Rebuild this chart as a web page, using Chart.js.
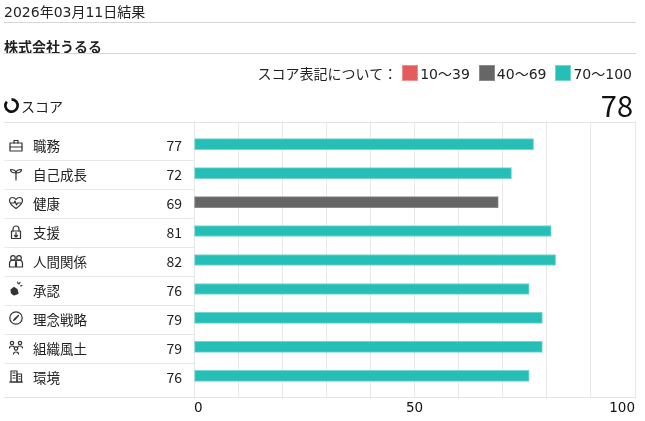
<!DOCTYPE html>
<html><head><meta charset="utf-8">
<script src="https://cdn.jsdelivr.net/npm/chart.js@4.4.1/dist/chart.umd.min.js"></script>
<style>
html,body{margin:0;padding:0;background:#fff;}
body{width:645px;height:421px;position:relative;overflow:hidden;font-family:"DejaVu Sans","Noto Sans CJK JP",sans-serif;color:#222;}
.abs{position:absolute;white-space:nowrap;}
.hl{position:absolute;height:1px;background:#d6d6d6;}
.sep{position:absolute;height:1px;background:#e8e8e8;left:4px;width:190px;}
#chartBox{position:absolute;left:0;top:0;width:645px;height:421px;}
#legend{position:absolute;right:13px;top:63px;height:19px;display:flex;align-items:center;font-size:14px;}
#legend .box{width:16px;height:16px;box-sizing:border-box;border:1px solid;margin-right:2px;}
#legend .lt{margin-right:9px;}
.lab{position:absolute;left:33px;font-size:13.5px;line-height:16px;font-family:"Noto Sans CJK JP",sans-serif;}
.val{position:absolute;right:463px;font-size:14px;line-height:16px;font-family:"Noto Sans CJK JP",sans-serif;text-align:right;}
.ico{position:absolute;left:8px;width:16px;height:16px;}
</style></head>
<body>
<div id="chartBox"><canvas id="c"></canvas></div>
<div class="abs" style="left:4px;top:4px;font-size:14px;line-height:16px;">2026年03月11日結果</div>
<div class="hl" style="left:4px;top:22px;width:632px;"></div>
<div class="abs" style="left:4px;top:38px;font-size:14px;line-height:16px;font-weight:bold;font-family:'Noto Sans CJK JP',sans-serif;">株式会社うるる</div>
<div class="hl" style="left:4px;top:53px;width:632px;"></div>
<div id="legend"></div>
<svg class="abs" style="left:3px;top:97px;" width="17" height="17" viewBox="0 0 16 16"><path d="M8 2.2 A5.8 5.8 0 1 1 3.56 4.27" fill="none" stroke="#111" stroke-width="2.5"/></svg>
<div class="abs" style="left:21px;top:98px;font-size:14px;line-height:16px;font-family:'Noto Sans CJK JP',sans-serif;">スコア</div>
<div class="abs" id="total" style="right:12px;top:87px;font-size:29px;line-height:34px;font-family:'Noto Sans CJK JP',sans-serif;color:#111;"></div>
<div class="hl" style="left:4px;top:122px;width:632px;background:#e3e3e3;"></div>
<div class="hl" style="left:4px;top:397px;width:632px;background:#e3e3e3;"></div>
<div id="rows"></div>
<script>
const categories = ["職務","自己成長","健康","支援","人間関係","承認","理念戦略","組織風土","環境"];
const scores = [77,72,69,81,82,76,79,79,76];
const totalScore = 78;
const legendLabels = ["10〜39","40〜69","70〜100"];
const legendTitle = "スコア表記について：";
const xTickLabels = [0,50,100];

const FILL = ["#e55c5c","#666666","#26bfb8"];
const EDGE = ["#f08f8f","#8a8a8a","#78d4cf"];
function band(v){return v<40?0:(v<70?1:2);}

const icons = [
 '<rect x="2" y="6" width="12" height="8" fill="none"/><path d="M6 6V3.5h4V6M2 10h12" fill="none"/>',
 '<path d="M8 14V7M8 7C8 4.5 5.5 3.5 2.5 3.5C2.5 6 5 7 8 7ZM8 7C8 4.5 10.5 3.5 13.5 3.5C13.5 6 11 7 8 7Z" fill="none"/>',
 '<path d="M8 13.5C3 10 1.5 7.5 1.5 5.5C1.5 3.5 3 2.5 4.5 2.5C6 2.5 7.3 3.5 8 4.5C8.7 3.5 10 2.5 11.5 2.5C13 2.5 14.5 3.5 14.5 5.5C14.5 7.5 13 10 8 13.5Z M3 8H6L7 6L8.5 10L9.5 8H13" fill="none"/>',
 '<path d="M5 7V5a3 3 0 0 1 6 0V7" fill="none"/><rect x="3.5" y="7" width="9" height="7.5" fill="none"/><path d="M8 8.5V13M6.5 11.5L8 13L9.5 11.5" fill="none"/>',
 '<circle cx="5" cy="5" r="2.3" fill="none"/><circle cx="11" cy="5" r="2.3" fill="none"/><path d="M1.5 14V10.5a3.5 3.5 0 0 1 7 0V14M7.5 14V10.5a3.5 3.5 0 0 1 7 0V14M1.5 14h13" fill="none"/>',
 '<path d="M3 9L6 6.5L9 8.5L10 12.5L6 14L3.5 12Z" fill="#333"/><path d="M11 3l1-1.5M12.5 5l1.5-.5M10 2.5l-.3-1.5" fill="none"/>',
 '<circle cx="8" cy="8" r="6.2" fill="none"/><path d="M10.5 5.5L7 9.5L5.5 10.5L6.5 9L10.5 5.5Z" fill="none"/>',
 '<circle cx="4" cy="4" r="1.7" fill="none"/><circle cx="12" cy="4" r="1.7" fill="none"/><circle cx="8" cy="9.5" r="1.7" fill="none"/><path d="M1.5 9a2.5 2 0 0 1 5 0M9.5 9a2.5 2 0 0 1 5 0M5.5 15a2.5 2 0 0 1 5 0" fill="none"/>',
 '<rect x="3" y="3" width="6" height="11" fill="none"/><rect x="9" y="6" width="4.5" height="8" fill="none"/><path d="M5 5h2M5 7.5h2M5 10h2M11 8.5h1M11 11h1M1.5 14h13" fill="none"/>'
];

// legend
const lg = document.getElementById('legend');
let h = '<span style="margin-right:5px;font-family:\'Noto Sans CJK JP\',sans-serif;">'+legendTitle+'</span>';
legendLabels.forEach((t,i)=>{
  h += '<span class="box" style="background:'+FILL[i]+';border-color:'+EDGE[i]+'"></span><span class="lt"'+(i===2?' style="margin-right:0"':'')+'>'+t+'</span>';
});
lg.innerHTML = h;
document.getElementById('total').textContent = totalScore;

const chart = new Chart(document.getElementById('c'), {
  type: 'bar',
  data: {
    datasets: [{
      data: scores.map((v,i)=>({x:v,y:i})),
      backgroundColor: scores.map(v=>FILL[band(v)]),
      borderColor: scores.map(v=>EDGE[band(v)]),
      borderWidth: 1,
      borderSkipped: false,
      barThickness: 11
    }]
  },
  options: {
    indexAxis: 'y',
    responsive: true,
    maintainAspectRatio: false,
    animation: false,
    devicePixelRatio: 1,
    layout: {padding: {left: 194, right: 10, top: 123, bottom: 0}},
    plugins: {legend: {display: false}, tooltip: {enabled: false}},
    scales: {
      x: {
        type: 'linear', min: 0, max: 100,
        grid: {color: 'rgba(0,0,0,0.09)', drawTicks: false},
        border: {display: false},
        afterFit: s => { s.height = 24; },
        ticks: {
          stepSize: 10, autoSkip: false, maxRotation: 0, align: 'inner', padding: 3,
          color: '#111', font: {family: 'DejaVu Sans', size: 13.5},
          callback: v => xTickLabels.includes(v) ? String(v) : ''
        }
      },
      y: {
        type: 'linear', min: -0.73, max: 8.73, reverse: true, display: false,
        offset: false, grid: {offset: false}
      }
    }
  }
});

const ys = chart.scales.y;
let rh = '';
categories.forEach((name,i)=>{
  const c = ys.getPixelForValue(i);
  rh += '<svg class="ico" style="top:'+(c-7.5)+'px" viewBox="0 0 16 16" stroke="#333" stroke-width="1.2" stroke-linejoin="round" stroke-linecap="round">'+icons[i]+'</svg>';
  rh += '<div class="lab" style="top:'+(c-7.3)+'px">'+name+'</div>';
  rh += '<div class="val" style="top:'+(c-7.3)+'px">'+scores[i]+'</div>';
  if (i < categories.length-1) rh += '<div class="sep" style="top:'+Math.round(c+16)+'px"></div>';
});
document.getElementById('rows').innerHTML = rh;
</script>
</body></html>
